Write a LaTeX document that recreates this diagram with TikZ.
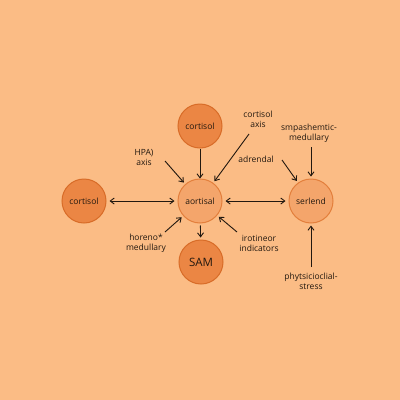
\documentclass[tikz,border=0pt]{standalone}
\usepackage{fontspec}
\setmainfont{Open Sans}
\usetikzlibrary{arrows.meta}
\definecolor{bg}{HTML}{FBBC85}
\definecolor{darkfill}{HTML}{EB8644}
\definecolor{darkedge}{HTML}{D86C28}
\definecolor{lightfill}{HTML}{F4A56B}
\definecolor{lightedge}{HTML}{E37F3C}
\definecolor{ink}{HTML}{22180F}
\tikzset{
  darkc/.style={circle, minimum size=44pt, inner sep=0pt, fill=darkfill, draw=darkedge, line width=1pt, text=ink, font=\fontsize{8.5}{10}\selectfont},
  lightc/.style={circle, minimum size=44pt, inner sep=0pt, fill=lightfill, draw=lightedge, line width=1pt, text=ink, font=\fontsize{8.5}{10}\selectfont},
  lbl/.style={align=center, text=ink, inner sep=0pt, font=\fontsize{8.5}{10}\selectfont},
  arr/.style={draw=ink, line width=0.9pt, -{Straight Barb[length=4pt,width=6pt]}},
  darr/.style={draw=ink, line width=0.9pt, {Straight Barb[length=4pt,width=6pt]}-{Straight Barb[length=4pt,width=6pt]}}
}
\begin{document}
\begin{tikzpicture}[x=1pt,y=-1pt]
\fill[bg] (0,0) rectangle (400,400);
\useasboundingbox (0,0) rectangle (400,400);
% circles
\node[darkc] (top) at (200,126) {cortisol};
\node[darkc] (left) at (84,201) {cortisol};
\node[lightc] (ctr) at (200,201) {aortisal};
\node[lightc] (right) at (311,201) {serlend};
\node[darkc, font=\fontsize{11.5}{13}\selectfont] (sam) at (201,262) {SAM};
% labels
\node[lbl] (hpa) at (144,157) {HPA)\\axis};
\node[lbl] (caxis) at (258,119) {cortisol\\axis};
\node[lbl] (adr) at (256,159) {adrendal};
\node[lbl] (smp) at (309,133) {smpashemtic-\\medullary};
\node[lbl] (hor) at (146,243) {horeno*\\medullary};
\node[lbl] (iro) at (259,243) {irotineor\\indicators};
\node[lbl] (phy) at (311,281) {phytsicioclial-\\stress};
% arrow start coordinates
\coordinate (hpaS) at (165,161);
\coordinate (caxS) at (249,134);
\coordinate (adrS) at (282,160);
\coordinate (smpS) at (311,147);
\coordinate (horS) at (165,232);
\coordinate (iroS) at (237,232);
\coordinate (phyS) at (311,267);
% arrows
\draw[arr] (top) -- (ctr);
\draw[arr, shorten >=2pt] (hpaS) -- (ctr);
\draw[arr, shorten >=2pt] (caxS) -- (ctr);
\draw[arr, shorten >=2pt] (horS) -- (ctr);
\draw[arr, shorten >=2pt] (iroS) -- (ctr);
\draw[arr, shorten >=2pt] (adrS) -- (right);
\draw[arr, shorten >=2pt] (smpS) -- (right);
\draw[arr, shorten >=2pt] (phyS) -- (right);
\draw[arr, shorten <=2pt, shorten >=2pt] (ctr) -- (sam);
\draw[darr, shorten <=3pt, shorten >=3pt] (left) -- (ctr);
\draw[darr, shorten <=3pt, shorten >=3pt] (ctr) -- (right);
\end{tikzpicture}
\end{document}
